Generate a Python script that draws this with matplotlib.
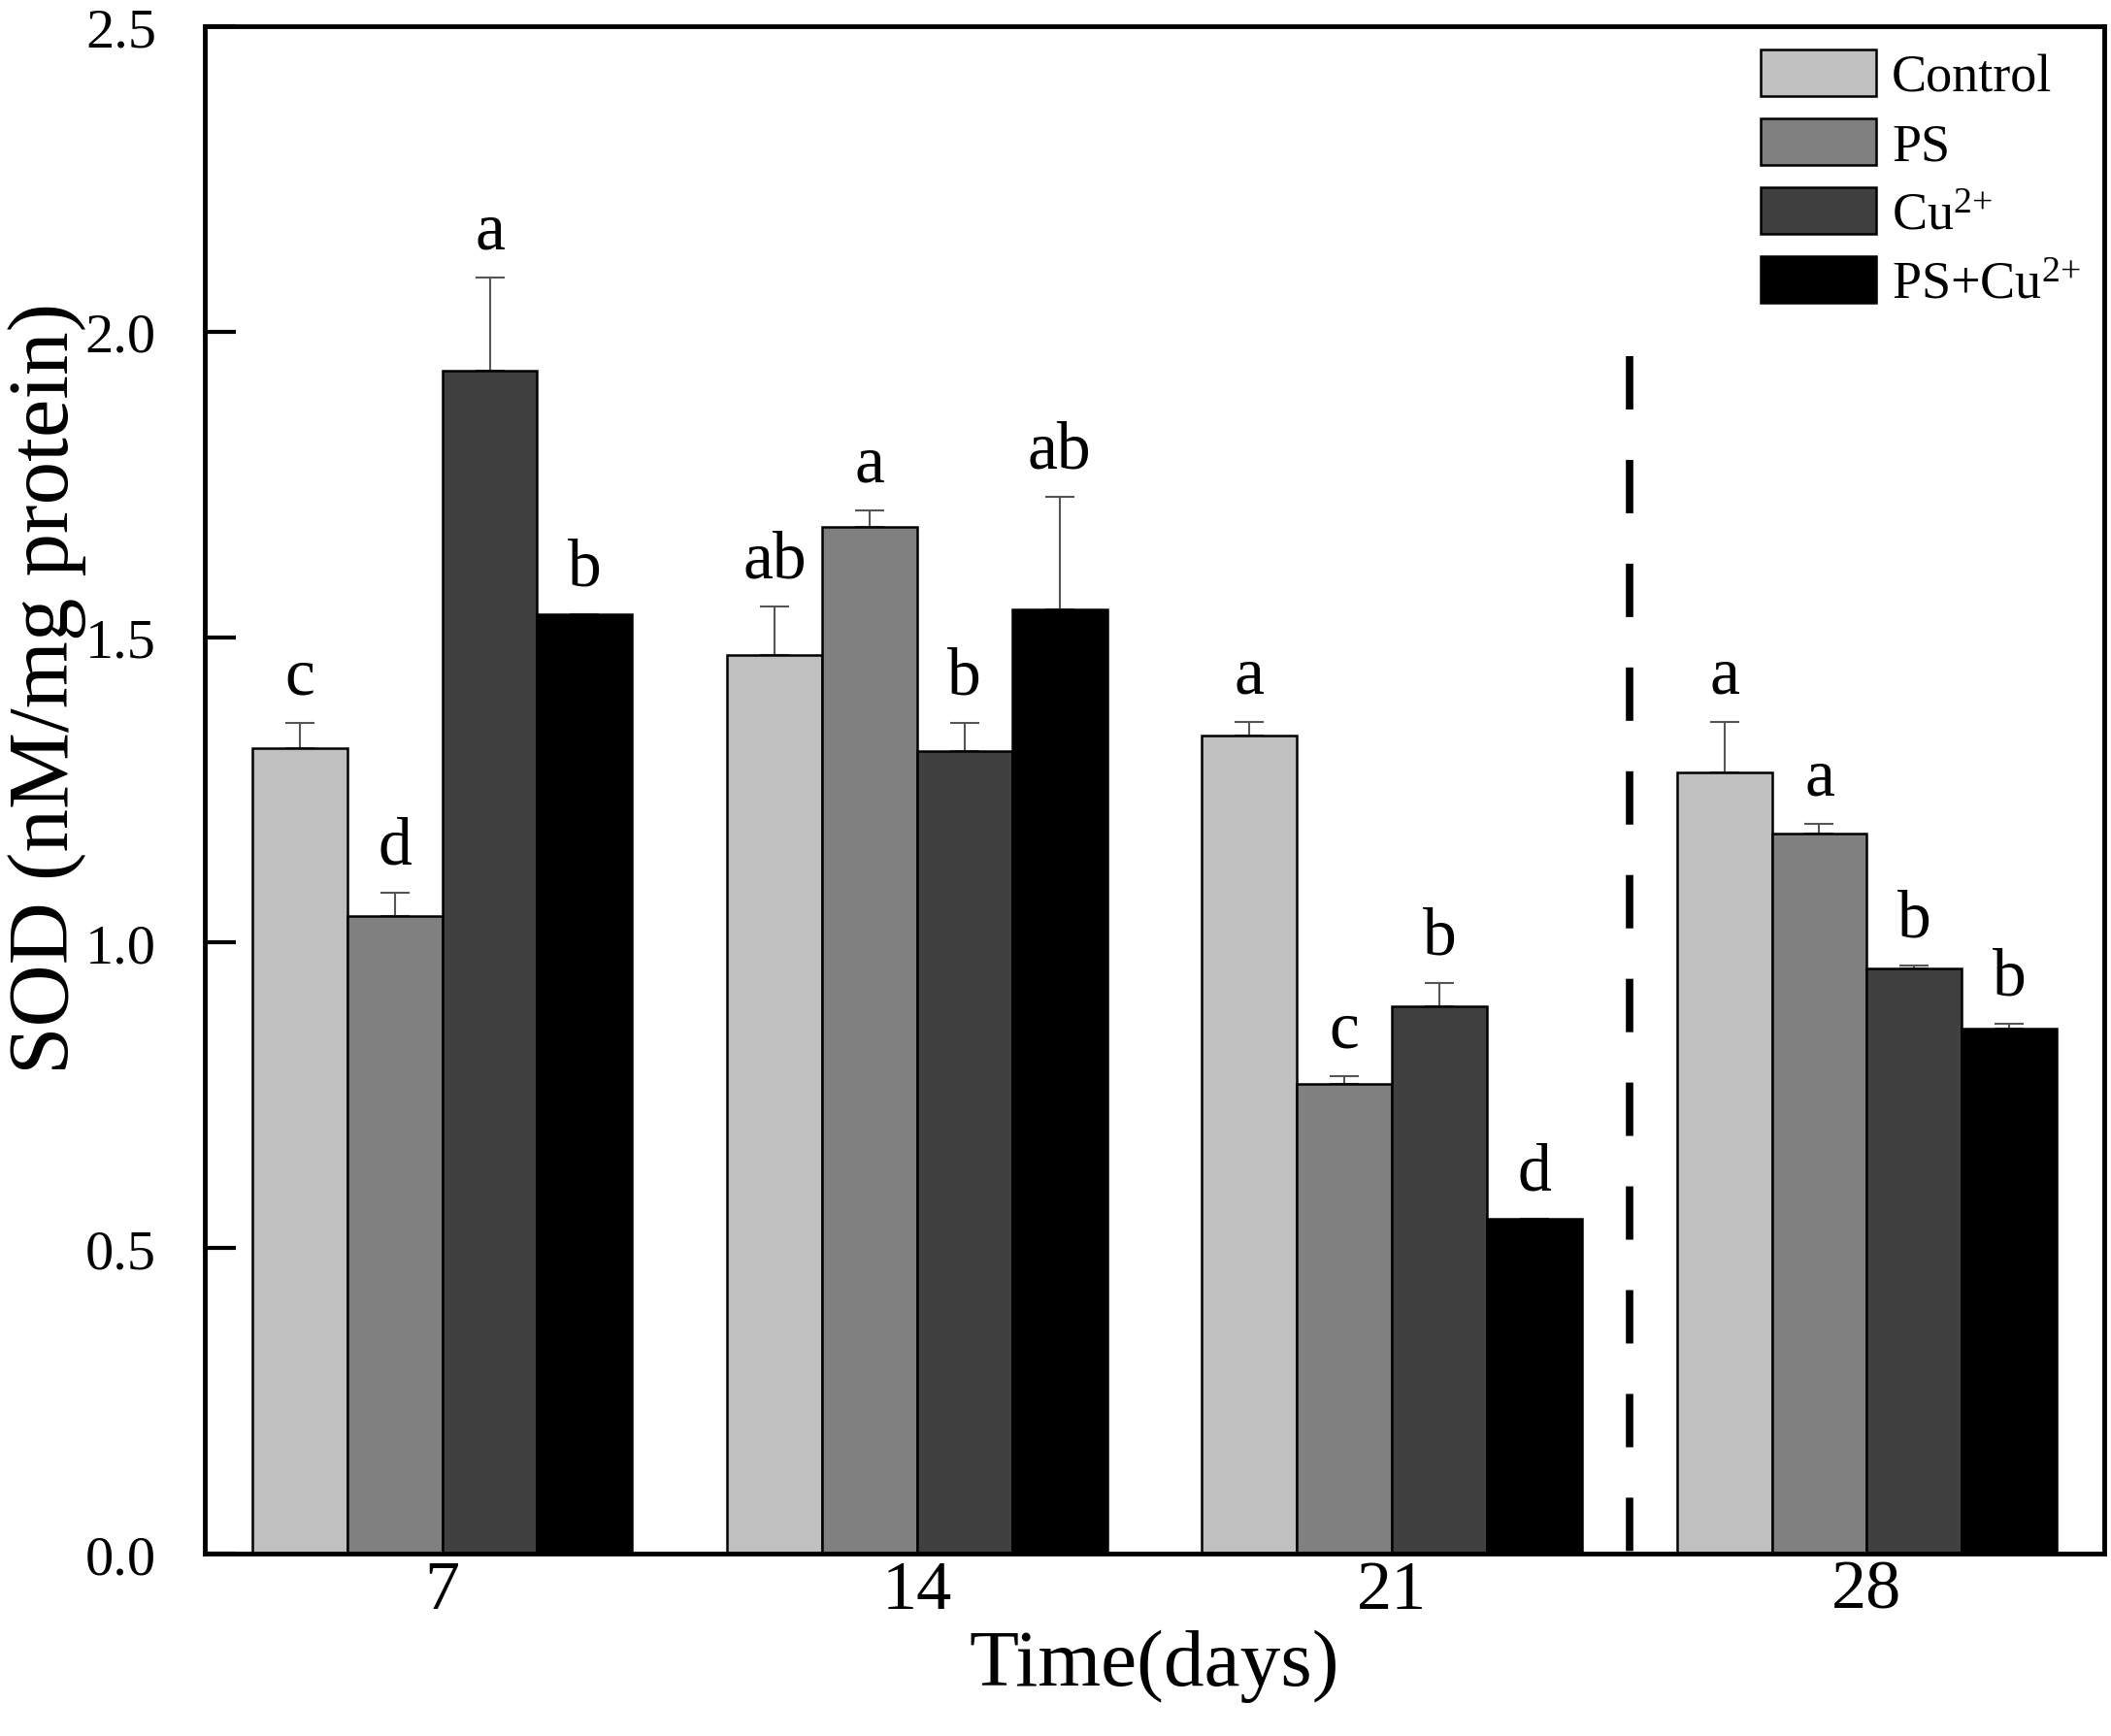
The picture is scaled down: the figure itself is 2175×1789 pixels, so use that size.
import matplotlib
matplotlib.use('Agg')
import matplotlib.pyplot as plt
import numpy as np

plt.rcParams['font.family'] = ['Liberation Serif', 'DejaVu Serif']
plt.rcParams['mathtext.fontset'] = 'custom'
plt.rcParams['mathtext.rm'] = 'Liberation Serif'
plt.rcParams['mathtext.it'] = 'Liberation Serif:italic'

# data (SOD, nM/mg protein)
days = ['7', '14', '21', '28']
groups = ['Control', 'PS', 'Cu$^{2{+}}$', 'PS+Cu$^{2{+}}$']
colors = ['#c0c0c0', '#808080', '#404040', '#000000']

control = [1.319, 1.471, 1.339, 1.278]
control_err = [0.040, 0.080, 0.022, 0.083]
ps = [1.044, 1.680, 0.769, 1.178]
ps_err = [0.037, 0.028, 0.013, 0.016]
cu = [1.936, 1.314, 0.896, 0.958]
cu_err = [0.152, 0.046, 0.038, 0.005]
ps_cu = [1.537, 1.546, 0.548, 0.859]
ps_cu_err = [0.0, 0.184, 0.0, 0.009]

control_let = ['c', 'ab', 'a', 'a']
ps_let = ['d', 'a', 'c', 'a']
cu_let = ['a', 'b', 'b', 'b']
ps_cu_let = ['b', 'ab', 'd', 'b']

sep_top = 1.96  # top of the dashed separator before day 28

values = [control, ps, cu, ps_cu]
errors = [control_err, ps_err, cu_err, ps_cu_err]
letters = [control_let, ps_let, cu_let, ps_cu_let]

fig = plt.figure(figsize=(21.75, 17.9), dpi=100)
ax = fig.add_axes([0.097, 0.105, 0.8998, 0.8793])

x = np.arange(len(days))
width = 0.2

for i in range(len(groups)):
    pos = x + (i - 1.5) * width
    vals = np.array(values[i])
    errs = np.array(errors[i])
    ax.bar(pos, vals, width, color=colors[i], edgecolor='black',
           linewidth=1.8, label=groups[i], zorder=2)
    ax.errorbar(pos, vals, yerr=[np.zeros(len(errs)), errs], fmt='none',
                ecolor='#555555', elinewidth=1.5, capsize=11, capthick=1.5,
                zorder=1)
    for p, v, e, t in zip(pos, vals, errs, letters[i]):
        ax.annotate(t, (p, v + e), xytext=(0, 22), textcoords='offset points',
                    ha='center', va='baseline', fontsize=50)

# dashed separator between day 21 and day 28 (drawn top-down so a dash starts at the top)
sep_x = (x[2] + x[3]) / 2
ax.plot([sep_x, sep_x], [sep_top, 0], color='black', lw=5.5,
        linestyle=(0, (7.2, 6.8)), zorder=1)

ax.set_xlim(-0.5, 3.5)
ax.set_ylim(0, 2.5)
ax.set_xticks(x)
ax.set_xticklabels(days)
ax.set_yticks(np.arange(0, 2.51, 0.5))
ax.set_yticklabels(['%.1f' % v for v in np.arange(0, 2.51, 0.5)])

ax.tick_params(axis='x', length=0, pad=4, labelsize=52)
ax.tick_params(axis='y', direction='in', length=23, width=3, pad=36,
               labelsize=42)
for s in ax.spines.values():
    s.set_linewidth(3.5)

ax.set_xlabel('Time(days)', fontsize=60, va='center')
ax.xaxis.set_label_coords(0.5, -0.073)
ax.set_ylabel('SOD (nM/mg protein)', fontsize=64, va='center')
ax.yaxis.set_label_coords(-0.083, 0.567)

ax.legend(loc='upper left', bbox_to_anchor=(0.819, 0.985), frameon=False,
          fontsize=39, handlelength=2.2, handleheight=1.0, handletextpad=0.3,
          labelspacing=0.3, borderpad=0, borderaxespad=0)

fig.savefig('out.png', dpi=100)
